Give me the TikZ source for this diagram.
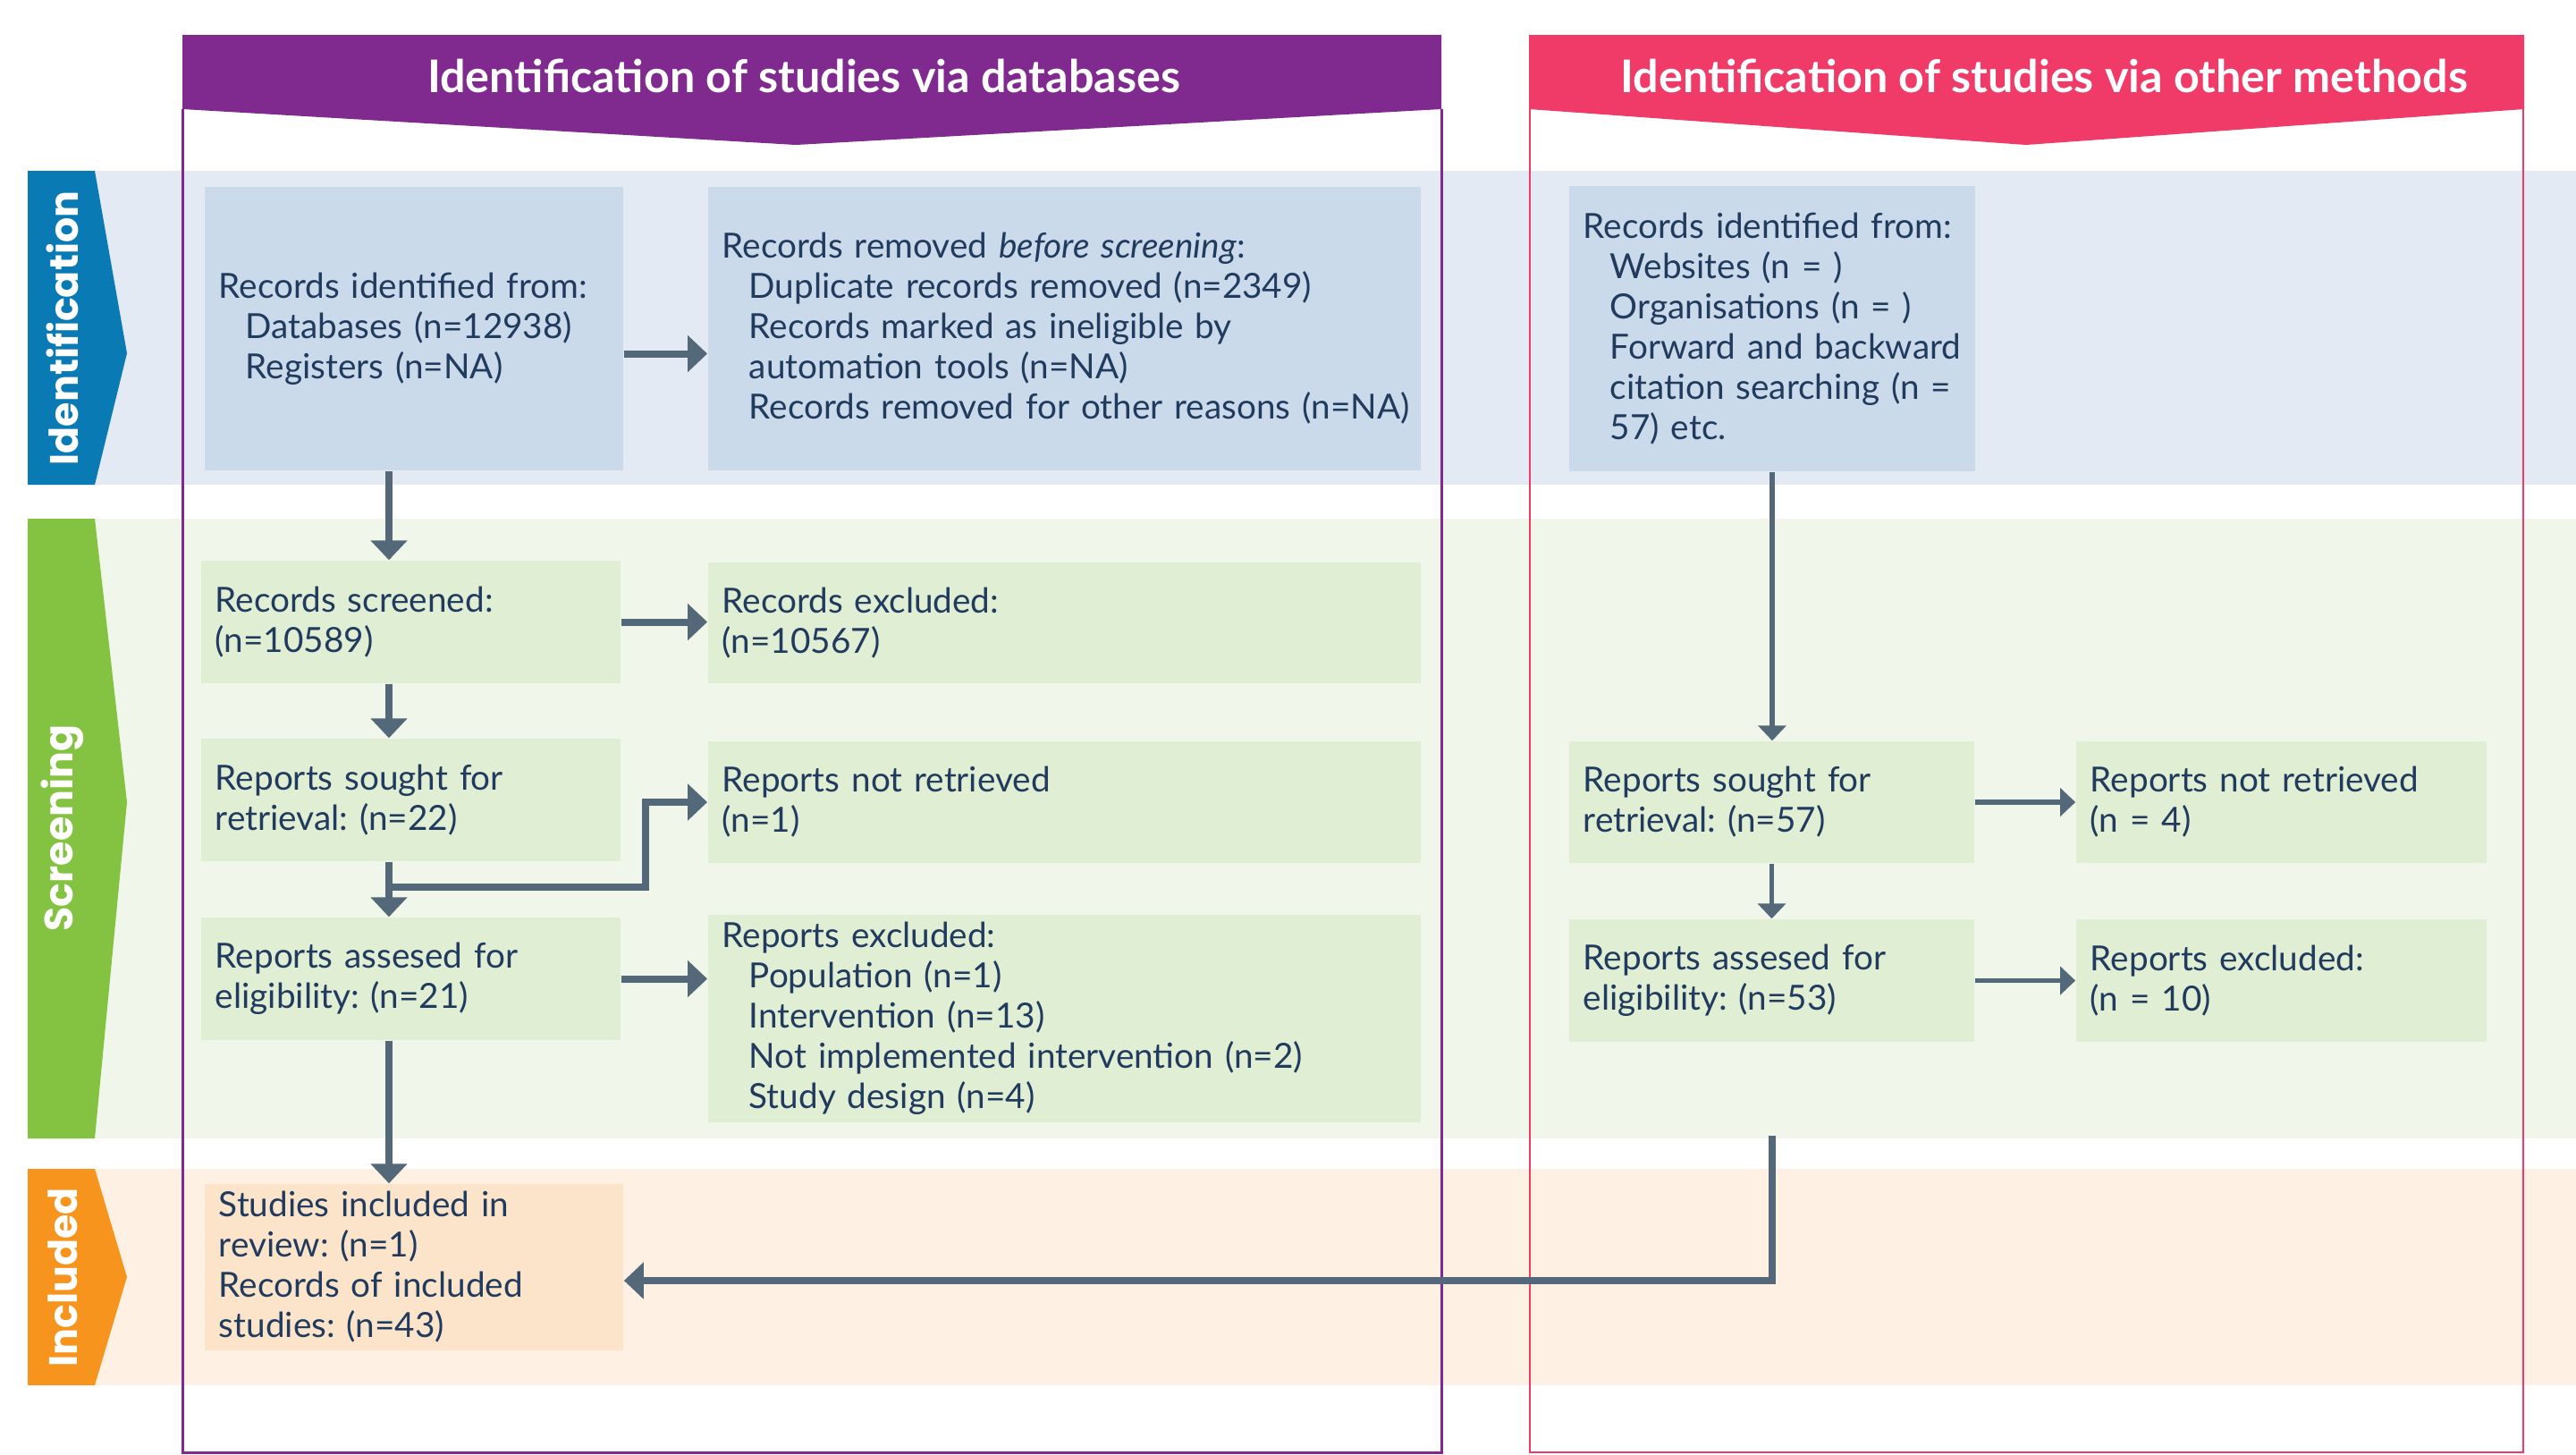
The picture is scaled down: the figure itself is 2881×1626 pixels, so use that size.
\documentclass[tikz,border=0pt]{standalone}
\usepackage{fontspec}
\setmainfont{Lato}
\newfontfamily\tabfont{Poppins}
\usetikzlibrary{arrows.meta,calc}
\definecolor{txt}{HTML}{213B5E}
\definecolor{arrowc}{HTML}{536878}
\definecolor{purp}{HTML}{80298F}
\definecolor{pinkc}{HTML}{F03A67}
\definecolor{tabblue}{HTML}{0A7AB5}
\definecolor{idband}{HTML}{E3EAF4}
\definecolor{idbox}{HTML}{CADAEA}
\definecolor{tabgreen}{HTML}{84C341}
\definecolor{scband}{HTML}{F0F6E9}
\definecolor{scbox}{HTML}{E0EED4}
\definecolor{taborange}{HTML}{F7941D}
\definecolor{inband}{HTML}{FEF1E3}
\definecolor{inbox}{HTML}{FCE4CA}
\newcommand\bodyf{\fontsize{11}{12.8}\selectfont\frenchspacing}
\newcommand\myind{\hspace*{0.3cm}}
\tikzset{
  bx/.style n args={4}{rectangle, minimum width=#1cm, minimum height=#2cm, text width=#3cm,
     fill=#4, inner xsep=0.16cm, inner ysep=0pt, align=left, text=txt, font=\bodyf},
  tablabel/.style={rotate=90, text=white, font=\tabfont\bfseries\fontsize{12.6}{15}\selectfont, inner sep=0pt},
  bannertext/.style={text=white, font=\bfseries\fontsize{14.3}{17}\selectfont, inner sep=0pt},
  thk/.style={draw=arrowc, line width=0.08cm, line join=miter, -{Triangle[length=0.22cm, width=0.40cm]}},
  thn/.style={draw=arrowc, line width=0.055cm, -{Triangle[length=0.17cm, width=0.31cm]}},
}
\begin{document}
\begin{tikzpicture}[x=0.01cm, y=-0.01cm]
\useasboundingbox (0,0) rectangle (2881,1626);
% phase bands
\fill[idband] (31,191) rectangle (2881,542);
\fill[scband] (31,580) rectangle (2881,1273);
\fill[inband] (31,1307) rectangle (2881,1549);
% phase tabs
\fill[tabblue] (31,191) -- (106,191) -- (142,395) -- (106,542) -- (31,542) -- cycle;
\fill[tabgreen] (31,580) -- (106,580) -- (142,897) -- (106,1273) -- (31,1273) -- cycle;
\fill[taborange] (31,1307) -- (106,1307) -- (142,1428) -- (106,1549) -- (31,1549) -- cycle;
\node[tablabel] (tid) at (70,367) {Identification};
\node[tablabel] (tsc) at (70,926) {Screening};
\node[tablabel] (tin) at (70,1428) {Included};
% banners
\fill[purp] (204,39) -- (1612,39) -- (1612,122) -- (890,162) -- (204,122) -- cycle;
\fill[pinkc] (1710,39) -- (2823,39) -- (2823,122) -- (2266,162) -- (1710,122) -- cycle;
\node[bannertext] (hdb) at (899,85) {Identification of studies via databases};
\node[bannertext] (hot) at (2286,85) {Identification of studies via other methods};
% frames
\draw[purp, line width=0.03cm] (204,122) -- (204,1624) -- (1612,1624) -- (1612,122);
\draw[pinkc, line width=0.025cm] (1711,122) -- (1711,1624) -- (2822,1624) -- (2822,122);
% boxes: databases
\node[bx={4.68}{3.17}{4.36}{idbox}] (dbid) at (463,367.5)
  {Records identified from:\\\myind Databases (n=12938)\\\myind Registers (n=NA)};
\node[bx={7.97}{3.17}{7.65}{idbox}] (removed) at (1190.5,367.5)
  {Records removed \textit{before screening}:\\\myind Duplicate records removed (n=2349)\\\myind Records marked as ineligible by\\\myind automation tools (n=NA)\\\myind\mbox{Records removed for other reasons (n=NA)}};
\node[bx={4.69}{1.37}{4.37}{scbox}] (screened) at (459.5,695.5)
  {Records screened:\\(n=10589)};
\node[bx={7.97}{1.35}{7.65}{scbox}] (excluded) at (1190.5,696.5)
  {Records excluded:\\(n=10567)};
\node[bx={4.69}{1.37}{4.37}{scbox}] (sought) at (459.5,894.5)
  {Reports sought for\\retrieval: (n=22)};
\node[bx={7.97}{1.36}{7.65}{scbox}] (notretr) at (1190.5,897)
  {Reports not retrieved\\(n=1)};
\node[bx={4.69}{1.37}{4.37}{scbox}] (assessed) at (459.5,1094.5)
  {Reports assesed for\\eligibility: (n=21)};
\node[bx={7.97}{2.32}{7.65}{scbox}] (rexcl) at (1190.5,1139)
  {Reports excluded:\\\myind Population (n=1)\\\myind Intervention (n=13)\\\myind Not implemented intervention (n=2)\\\myind Study design (n=4)};
\node[bx={4.68}{1.86}{4.36}{inbox}] (included) at (463,1417)
  {Studies included in\\review: (n=1)\\Records of included\\studies: (n=43)};
% boxes: other methods
\node[bx={4.54}{3.19}{4.22}{idbox}] (otherid) at (1982,367.5)
  {Records identified from:\\\myind Websites (n = )\\\myind Organisations (n = )\\\myind Forward and backward\\\myind citation searching (n =\\\myind 57) etc.};
\node[bx={4.53}{1.36}{4.21}{scbox}] (osought) at (1981.5,897)
  {Reports sought for\\retrieval: (n=57)};
\node[bx={4.59}{1.36}{4.27}{scbox}] (onotretr) at (2551.5,897)
  {Reports not retrieved\\(n = 4)};
\node[bx={4.53}{1.37}{4.21}{scbox}] (oassessed) at (1981.5,1096.5)
  {Reports assesed for\\eligibility: (n=53)};
\node[bx={4.59}{1.37}{4.27}{scbox}] (oexcl) at (2551.5,1096.5)
  {Reports excluded:\\(n = 10)};
% helper coordinates
\coordinate (colL) at (435,0);
\coordinate (elb) at (435,992);
\coordinate (elbx) at (722,0);
\coordinate (bstart) at (1982,1270);
% connectors: databases
\draw[thk] ($(dbid.east)+(0,28)$) -- ($(removed.west)+(0,28)$);
\draw[thk] (dbid.south -| colL) -- (screened.north -| colL);
\draw[thk] (screened.east) -- (screened.east -| excluded.west);
\draw[thk] (screened.south -| colL) -- (sought.north -| colL);
\draw[thk] (sought.south -| colL) -- (assessed.north -| colL);
\draw[thk] (elb) -| (elbx |- notretr.west) -- (notretr.west);
\draw[thk] (assessed.east) -- (assessed.east -| rexcl.west);
\draw[thk] (assessed.south -| colL) -- (included.north -| colL);
% connectors: other methods
\draw[thn] (otherid.south) -- (otherid.south |- osought.north);
\draw[thn] (osought.east) -- (onotretr.west);
\draw[thn] (osought.south) -- (oassessed.north);
\draw[thn] (oassessed.east) -- (oexcl.west);
\draw[thk] (bstart) |- ($(included.east)+(0,15)$);
\end{tikzpicture}
\end{document}
